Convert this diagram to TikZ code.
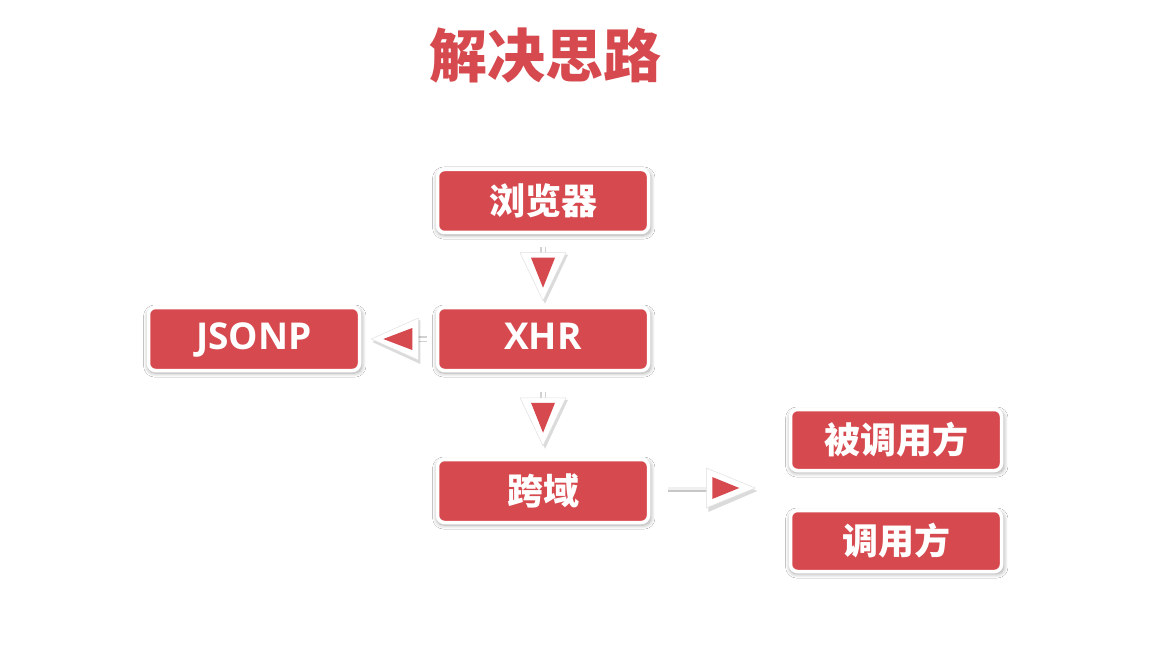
\documentclass[tikz,border=0pt]{standalone}
\usepackage{fontspec}
\setmainfont{Open Sans}
\newfontfamily\cjk{Noto Sans CJK SC}
\usetikzlibrary{shadows.blur,calc}
\definecolor{boxred}{RGB}{214,73,78}
\tikzset{
  box/.style={rectangle, rounded corners=7pt, fill=boxred, draw=white, line width=3.5pt,
    minimum width=211pt, minimum height=63pt, inner sep=0pt, text=white,
    font=\cjk\bfseries\fontsize{36}{40}\selectfont,
    blur shadow={shadow xshift=0.8pt, shadow yshift=-2pt, shadow blur radius=4pt,
      shadow blur steps=8, shadow opacity=35, shadow scale=1.015}},
  latinbox/.style={box, font=\bfseries\fontsize{37}{40}\selectfont, text height=21pt, text depth=0pt},
  smallbox/.style={box, minimum height=61pt},
  titletext/.style={text=boxred, font=\cjk\bfseries\fontsize{58}{62}\selectfont},
  stubshadow/.style={draw=black, opacity=0.18, line width=6pt},
  stubline/.style={draw=white, line width=3pt},
  hshadow/.style={draw=black, opacity=0.22, line width=3pt},
  hline/.style={draw=black!6, line width=3pt},
  headshadow/.style={fill=black, opacity=0.14},
  headouter/.style={fill=white, draw=black!12, line width=0.5pt, line join=round},
  headinner/.style={fill=boxred},
}
% arrowheads: #1 = tip coordinate
\newcommand\myHeadDown[1]{%
  \fill[headshadow] ($(#1)+(-21,-46)$) -- ($(#1)+(25,-46)$) -- ($(#1)+(2,3)$) -- cycle;
  \path[headouter] ($(#1)+(-23,-48)$) -- ($(#1)+(23,-48)$) -- ($(#1)+(0,0)$) -- cycle;
  \fill[headinner] ($(#1)+(-12,-43)$) -- ($(#1)+(12,-43)$) -- ($(#1)+(0,-13)$) -- cycle;}
\newcommand\myHeadLeft[1]{%
  \fill[headshadow] ($(#1)+(49,-19)$) -- ($(#1)+(49,25)$) -- ($(#1)+(1,3)$) -- cycle;
  \path[headouter] ($(#1)+(47,-21)$) -- ($(#1)+(47,21)$) -- ($(#1)+(0,0)$) -- cycle;
  \fill[headinner] ($(#1)+(41,-11)$) -- ($(#1)+(41,11)$) -- ($(#1)+(12,0)$) -- cycle;}
\newcommand\myHeadRight[1]{%
  \fill[headshadow] ($(#1)+(-47,-18)$) -- ($(#1)+(-47,24)$) -- ($(#1)+(2,3)$) -- cycle;
  \path[headouter] ($(#1)+(-49,-20)$) -- ($(#1)+(-49,20)$) -- ($(#1)+(0,0)$) -- cycle;
  \fill[headinner] ($(#1)+(-43,-11)$) -- ($(#1)+(-43,11)$) -- ($(#1)+(-16,0)$) -- cycle;}
\begin{document}
\begin{tikzpicture}[x=1pt,y=-1pt]
\useasboundingbox[fill=white] (0,0) rectangle (1168,647);

\node[titletext] (title) at (545,56) {解决思路};

\node[box] (browser) at (543,201) {浏览器};
\node[latinbox] (xhr) at (543,339) {XHR};
\node[latinbox] (jsonp) at (254,339) {JSONP};
\node[box] (cross) at (543,491) {跨域};
\node[smallbox] (callee) at (896,440) {被调用方};
\node[smallbox] (caller) at (896,541) {调用方};

% browser -> XHR
\coordinate (tA) at ($(xhr.north)+(0,-5)$);
\coordinate (sA) at ($(browser.south)+(0,13)$);
\draw[stubshadow] (sA) -- ($(tA)+(0,-44)$);
\draw[stubline] (sA) -- ($(tA)+(0,-44)$);
\myHeadDown{tA}

% XHR -> cross
\coordinate (tB) at ($(cross.north)+(0,-12)$);
\coordinate (sB) at ($(xhr.south)+(0,20)$);
\draw[stubshadow] (sB) -- ($(tB)+(0,-44)$);
\draw[stubline] (sB) -- ($(tB)+(0,-44)$);
\myHeadDown{tB}

% XHR -> JSONP
\coordinate (tC) at ($(jsonp.east)+(10,0)$);
\coordinate (sC) at ($(xhr.west)+(-9,0)$);
\draw[stubshadow] (sC) -- ($(tC)+(44,0)$);
\draw[stubline] (sC) -- ($(tC)+(44,0)$);
\myHeadLeft{tC}

% cross -> callee/caller
\coordinate (tD) at ($(cross.east)+(105,-3)$);
\coordinate (sD) at ($(cross.east)+(18,-3)$);
\draw[hshadow] ($(sD)+(0,2)$) -- ($(tD)+(-45,2)$);
\draw[hline] (sD) -- ($(tD)+(-45,0)$);
\myHeadRight{tD}
\end{tikzpicture}
\end{document}
